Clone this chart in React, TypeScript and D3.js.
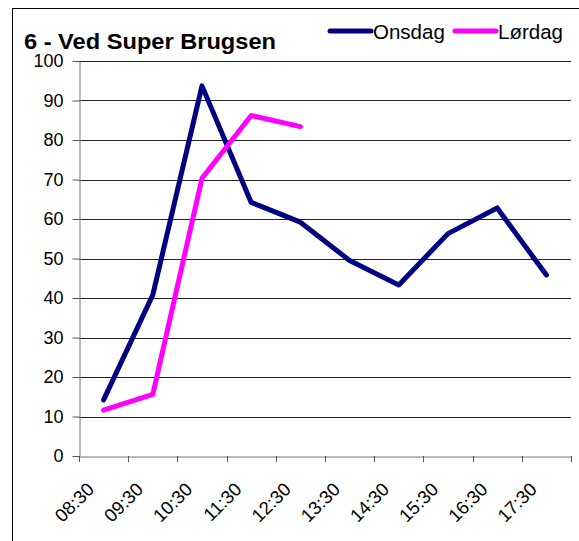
import React, { useEffect, useRef } from 'react';
import * as d3 from 'd3';

const times = ["08:30", "09:30", "10:30", "11:30", "12:30", "13:30", "14:30", "15:30", "16:30", "17:30"];
const onsdag = [14.2, 40.8, 93.7, 64.2, 59.2, 49.5, 43.3, 56.3, 62.8, 45.8];
const lordag = [11.6, 15.6, 70.3, 86.2, 83.4];
const yTicks = [0, 10, 20, 30, 40, 50, 60, 70, 80, 90, 100];

const seriesList = [
  { name: "Onsdag", values: onsdag, color: "#000080" },
  { name: "Lørdag", values: lordag, color: "#ff00ff" },
];

const width = 579;
const height = 541;
const margin = { top: 61, right: 8, bottom: 85, left: 79 };
const font = "Liberation Sans, Arial, sans-serif";

const App = () => {
  const ref = useRef<SVGSVGElement | null>(null);

  useEffect(() => {
    const svg = d3.select(ref.current);
    svg.selectAll("*").remove();

    const x = d3.scaleBand()
      .domain(times)
      .range([margin.left, width - margin.right]);

    const y = d3.scaleLinear()
      .domain([0, 100])
      .range([height - margin.bottom, margin.top]);

    // outer frame (runs off right and bottom like the source)
    svg.append("rect")
      .attr("x", 12.5)
      .attr("y", 8.5)
      .attr("width", 700)
      .attr("height", 700)
      .attr("fill", "white")
      .attr("stroke", "#000");

    // gridlines
    svg.append("g")
      .selectAll("line")
      .data(yTicks.filter(d => d > 0))
      .join("line")
        .attr("x1", margin.left)
        .attr("x2", width - margin.right)
        .attr("y1", d => Math.round(y(d)) + 0.5)
        .attr("y2", d => Math.round(y(d)) + 0.5)
        .attr("stroke", "#222");

    // y axis
    const yAxis = svg.append("g")
      .attr("transform", `translate(${margin.left + 0.5},0)`)
      .call(d3.axisLeft(y).tickValues(yTicks).tickSize(7).tickPadding(9).tickSizeOuter(0));
    yAxis.select(".domain").attr("stroke", "#777");
    yAxis.selectAll(".tick line").attr("stroke", "#555");
    yAxis.selectAll("text")
      .attr("font-family", font)
      .attr("font-size", 18)
      .attr("fill", "#000");

    // x axis
    const xAxis = svg.append("g")
      .attr("transform", `translate(0,${Math.round(y(0)) + 0.5})`)
      .call(d3.axisBottom(x).tickSize(0).tickFormat(() => ""));
    xAxis.select(".domain").attr("stroke", "#777");

    const edges = [...times.map(t => x(t) as number), width - margin.right];
    svg.append("g")
      .selectAll("line")
      .data(edges)
      .join("line")
        .attr("x1", d => Math.round(d) + 0.5)
        .attr("x2", d => Math.round(d) + 0.5)
        .attr("y1", y(0))
        .attr("y2", y(0) + 6)
        .attr("stroke", "#555");

    svg.append("g")
      .selectAll("text")
      .data(times)
      .join("text")
        .attr("transform", d => `translate(${(x(d) as number) + x.bandwidth() / 2 - 13},${y(0) + 30}) rotate(-45)`)
        .attr("text-anchor", "end")
        .attr("dy", "0.35em")
        .attr("font-family", font)
        .attr("font-size", 18.5)
        .text(d => d);

    // lines
    const line = d3.line<number>()
      .x((_, i) => (x(times[i]) as number) + x.bandwidth() / 2)
      .y(d => y(d));

    svg.append("g")
      .selectAll("path")
      .data(seriesList)
      .join("path")
        .attr("d", d => line(d.values))
        .attr("fill", "none")
        .attr("stroke", d => d.color)
        .attr("stroke-width", 5)
        .attr("stroke-linejoin", "round")
        .attr("stroke-linecap", "round");

    // title
    svg.append("text")
      .attr("x", 24)
      .attr("y", 49)
      .attr("font-family", font)
      .attr("font-weight", "bold")
      .attr("font-size", 22)
      .attr("textLength", 252)
      .attr("lengthAdjust", "spacingAndGlyphs")
      .text("6 - Ved Super Brugsen");

    // legend
    const legendX = [330, 455];
    const legend = svg.append("g")
      .selectAll("g")
      .data(seriesList)
      .join("g")
        .attr("transform", (_, i) => `translate(${legendX[i]},31)`);
    legend.append("line")
      .attr("x1", 0)
      .attr("x2", 41)
      .attr("stroke", d => d.color)
      .attr("stroke-width", 5)
      .attr("stroke-linecap", "round");
    legend.append("text")
      .attr("x", 43)
      .attr("y", 8)
      .attr("font-family", font)
      .attr("font-size", 20.5)
      .text(d => d.name);
  }, []);

  return (
    <svg
      ref={ref}
      width={width}
      height={height}
      style={{ position: "absolute", left: 0, top: 0, background: "white" }}
    />
  );
};

export default App;
